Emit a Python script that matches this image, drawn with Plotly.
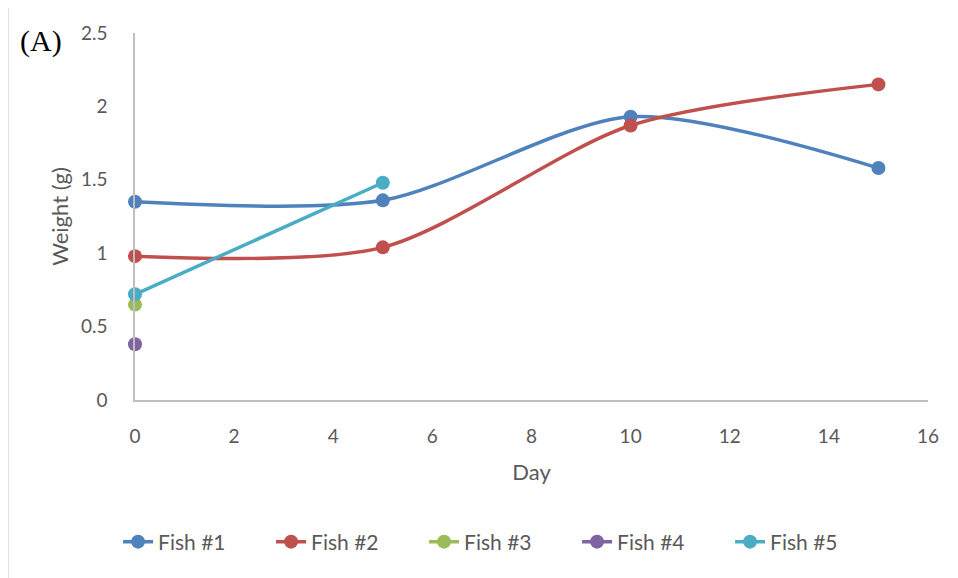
import plotly.graph_objects as go

days = [0, 5, 10, 15]
fish1 = [1.35, 1.36, 1.93, 1.58]
fish2 = [0.98, 1.04, 1.87, 2.15]
fish3 = [0.65]
fish4 = [0.38]
fish5 = [0.72, 1.48]
names = ["Fish #1", "Fish #2", "Fish #3", "Fish #4", "Fish #5"]
colors = ["#4F81BD", "#C0504D", "#9BBB59", "#8064A2", "#4BACC6"]
series = [(days, fish1), (days, fish2), (days[:1], fish3), (days[:1], fish4), (days[:2], fish5)]
x_ticks = list(range(0, 17, 2))
y_ticks = [0, 0.5, 1, 1.5, 2, 2.5]

# page body has an 8px margin, so the figure is drawn 8px in from the top-left
OFF = 8
W, H = 958 - OFF, 578 - OFF
L, R, T, B = 135 - OFF, 30, 33 - OFF, 178
pw, ph = W - L - R, H - T - B

fig = go.Figure()
for (xs, ys), name, c in zip(series, names, colors):
    fig.add_trace(go.Scatter(
        x=xs, y=ys, name=name, mode="lines+markers", cliponaxis=False,
        line=dict(color=c, width=3.5, shape="spline", smoothing=0.8),
        marker=dict(color=c, size=14),
    ))

font = "Lato, 'Open Sans', sans-serif"
fig.update_layout(
    width=W, height=H,
    margin=dict(l=L, r=R, t=T, b=B),
    paper_bgcolor="white", plot_bgcolor="white",
    font=dict(family=font, size=19, color="#595959"),
    xaxis=dict(range=[0, 16], tickvals=x_ticks, showgrid=False, zeroline=False,
               showline=True, linecolor="#BFBFBF", linewidth=1.5, ticks="",
               ticklabelstandoff=18,
               title=dict(text="Day", font=dict(size=22, color="#595959"), standoff=19)),
    yaxis=dict(range=[0, 2.5], tickvals=y_ticks, ticktext=["0", "0.5", "1", "1.5", "2", "2.5"],
               showgrid=False, zeroline=False,
               showline=True, linecolor="#BFBFBF", linewidth=1.5, ticks="",
               ticklabelstandoff=22,
               title=dict(text="Weight (g)", font=dict(size=22, color="#595959"), standoff=6)),
    legend=dict(orientation="h", x=0.461, xanchor="center", y=(400 - 542) / ph, yanchor="middle",
                font=dict(size=21, color="#595959"), itemwidth=30,
                entrywidth=108, entrywidthmode="pixels"),
    showlegend=True,
)

# outer chart frame (left edge)
fx0 = (8 - 135) / pw
fy1 = (400 - 5) / ph
fig.add_shape(type="line", xref="paper", yref="paper", x0=fx0, x1=fx0, y0=fy1, y1=-(B + 10) / ph,
              line=dict(color="#D9D9D9", width=1.5))

fig.add_annotation(text="(A)", xref="paper", yref="paper", x=(18 - 135) / pw, y=(400 - 41) / ph,
                   xanchor="left", yanchor="middle", showarrow=False,
                   font=dict(family="'Liberation Serif', 'Times New Roman', serif", size=30, color="black"))

fig.write_html("out.html")
